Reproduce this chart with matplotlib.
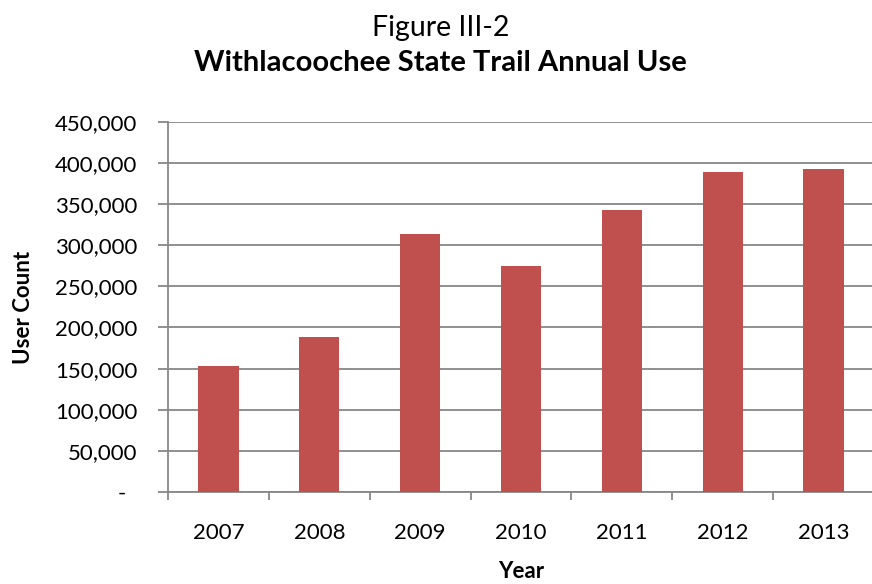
import matplotlib.pyplot as plt
from matplotlib.ticker import MultipleLocator, FuncFormatter

# Chart data
years = ['2007', '2008', '2009', '2010', '2011', '2012', '2013']
user_count = [153000, 189000, 313000, 274500, 343000, 388500, 393000]

BAR_COLOR = '#C0504D'
GRID_COLOR = '#878787'
FONT = 'Lato'


def fmt_count(v, pos):
    if v == 0:
        return '-  '
    return '{:,.0f}'.format(v)


def main():
    plt.rcParams['font.family'] = [FONT, 'DejaVu Sans']

    fig = plt.figure(figsize=(8.72, 5.84), dpi=100)
    # plot area: x 168..874 px, y 122..492 px
    ax = fig.add_axes([0.1927, 0.1575, 0.8096, 0.634])

    x = list(range(len(years)))
    ax.bar(x, user_count, width=0.4, color=BAR_COLOR, zorder=3)

    ax.set_xlim(-0.5, len(years) - 0.5)
    ax.set_ylim(0, 450000)
    ax.yaxis.set_major_locator(MultipleLocator(50000))
    ax.yaxis.set_major_formatter(FuncFormatter(fmt_count))

    ax.set_xticks(x)
    ax.set_xticklabels(years)
    # category separators as minor ticks
    ax.set_xticks([i - 0.5 for i in range(len(years) + 1)], minor=True)
    ax.tick_params(axis='x', which='major', length=0, pad=22, labelsize=16)
    ax.tick_params(axis='x', which='minor', length=6, width=1.3, color=GRID_COLOR)
    ax.tick_params(axis='y', which='major', length=7, width=1.3, color=GRID_COLOR,
                   pad=15, labelsize=16)

    ax.grid(axis='y', color=GRID_COLOR, linewidth=1.3, zorder=0)
    ax.set_axisbelow(True)

    for side in ('top', 'right'):
        ax.spines[side].set_visible(False)
    for side in ('left', 'bottom'):
        ax.spines[side].set_color(GRID_COLOR)
        ax.spines[side].set_linewidth(1.3)

    fig.text(23 / 872, 1 - 307 / 584, 'User Count', rotation=90, ha='center', va='center',
             fontsize=16, fontweight='bold')
    fig.text(521 / 872, 1 - 571 / 584, 'Year', ha='center', va='center',
             fontsize=16, fontweight='bold')

    fig.text(0.505, 1 - 36 / 584, 'Figure III-2', ha='center', va='baseline', fontsize=20.5)
    fig.text(0.505, 1 - 71 / 584, 'Withlacoochee State Trail Annual Use', ha='center',
             va='baseline', fontsize=21, fontweight='bold')

    fig.savefig('out.png', dpi=100)


if __name__ == '__main__':
    main()
